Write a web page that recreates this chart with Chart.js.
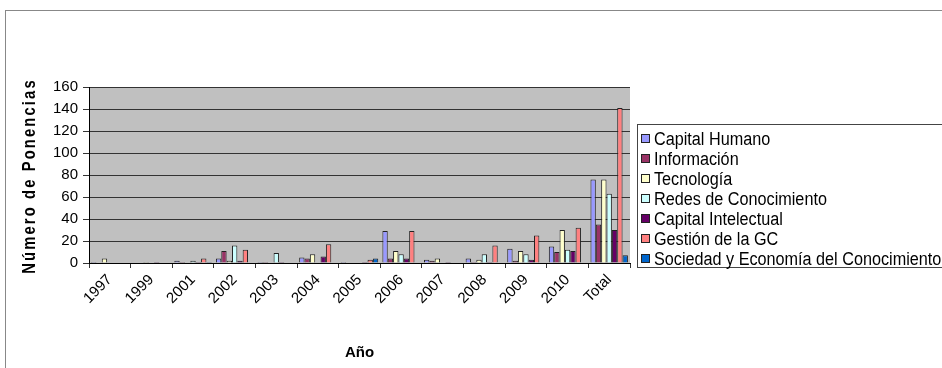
<!DOCTYPE html>
<html>
<head>
<meta charset="utf-8">
<script src="https://cdn.jsdelivr.net/npm/chart.js@4.4.0/dist/chart.umd.min.js"></script>
<style>
  html, body { margin: 0; padding: 0; background: #fff; }
</style>
</head>
<body>
<canvas id="myChart" width="942" height="368"></canvas>
<script>
// Datos
const years = ['1997', '1999', '2001', '2002', '2003', '2004', '2005', '2006', '2007', '2008', '2009', '2010', 'Total'];
const capitalHumano   = [1, 0, 2, 4, 1, 5, 1, 29, 3, 4, 13, 15, 76];
const informacion     = [0, 0, 1, 11, 1, 4, 0, 4, 2, 1, 2, 10, 35];
const tecnologia      = [4, 1, 0, 2, 0, 8, 0, 11, 4, 3, 11, 30, 76];
const redes           = [0, 0, 2, 16, 9, 0, 0, 8, 0, 8, 8, 12, 63];
const capitalIntelect = [0, 1, 1, 2, 1, 6, 1, 4, 1, 1, 3, 11, 30];
const gestionGC       = [0, 0, 4, 12, 0, 17, 3, 29, 0, 16, 25, 32, 141];
const sociedad        = [0, 0, 1, 0, 0, 0, 4, 0, 0, 0, 0, 0, 7];

const seriesNames = ['Capital Humano', 'Información', 'Tecnología', 'Redes de Conocimiento',
  'Capital Intelectual', 'Gestión de la GC', 'Sociedad y Economía del Conocimiento'];
const seriesColors = ['#9999FF', '#993366', '#FFFFCC', '#CCFFFF', '#660066', '#FF8080', '#0066CC'];
const seriesValues = [capitalHumano, informacion, tecnologia, redes, capitalIntelect, gestionGC, sociedad];

const FONT = '"Liberation Sans", Arial, sans-serif';

// Fondo gris del área de trazado, marco exterior, leyenda y título del eje Y
const decoraciones = {
    id: 'decoraciones',
    beforeDraw(chart) {
        const ctx = chart.ctx;
        const a = chart.chartArea;
        ctx.save();
        ctx.fillStyle = '#fff';
        ctx.fillRect(0, 0, chart.width, chart.height);
        ctx.strokeStyle = '#888';
        ctx.lineWidth = 1;
        ctx.strokeRect(5.5, 10.5, 1000, 400);
        ctx.fillStyle = '#C0C0C0';
        ctx.fillRect(a.left, a.top, a.right - a.left, a.bottom - a.top);
        ctx.restore();
    },
    afterDraw(chart) {
        const ctx = chart.ctx;
        ctx.save();
        // leyenda (texto algo estrecho)
        ctx.strokeStyle = '#444';
        ctx.lineWidth = 1;
        ctx.strokeRect(637.5, 124.5, 400, 143);
        ctx.font = '18px ' + FONT;
        ctx.textBaseline = 'middle';
        chart.data.datasets.forEach((ds, i) => {
            const y = 139 + i * 20;
            ctx.fillStyle = ds.backgroundColor;
            ctx.fillRect(641, y - 5, 9, 9);
            ctx.strokeStyle = '#222';
            ctx.strokeRect(641.5, y - 4.5, 8, 8);
            ctx.fillStyle = '#000';
            ctx.save();
            ctx.translate(654, y + 1);
            ctx.scale(0.9, 1);
            ctx.fillText(ds.label, 0, 0);
            ctx.restore();
        });
        // título del eje Y
        ctx.translate(30, 176);
        ctx.rotate(-Math.PI / 2);
        ctx.scale(0.82, 1);
        ctx.font = 'bold 18px ' + FONT;
        ctx.letterSpacing = '2.6px';
        ctx.textAlign = 'center';
        ctx.fillStyle = '#000';
        ctx.fillText('Número de Ponencias', 0, 0);
        ctx.restore();
    }
};

const ctx = document.getElementById('myChart').getContext('2d');
const myChart = new Chart(ctx, {
    type: 'bar',
    data: {
        labels: years,
        datasets: seriesValues.map((vals, i) => ({
            label: seriesNames[i],
            data: vals,
            backgroundColor: seriesColors[i],
            borderColor: '#222',
            borderWidth: 1,
            categoryPercentage: 0.9,
            barPercentage: 1.0
        }))
    },
    options: {
        responsive: false,
        animation: false,
        layout: { padding: { left: 0, top: 87, right: 312, bottom: 0 } },
        plugins: {
            legend: { display: false },
            tooltip: { enabled: false }
        },
        scales: {
            x: {
                grid: { drawOnChartArea: false, tickLength: 5, color: '#333' },
                border: { color: '#000' },
                ticks: {
                    color: '#000',
                    font: { family: FONT, size: 15 },
                    minRotation: 45,
                    maxRotation: 45,
                    autoSkip: false
                },
                title: {
                    display: true,
                    text: 'Año',
                    color: '#000',
                    font: { family: FONT, size: 15, weight: 'bold' },
                    padding: { top: 0, bottom: 6 }
                },
                afterFit(scale) { scale.height = 105; }
            },
            y: {
                min: 0,
                max: 160,
                ticks: {
                    stepSize: 20,
                    autoSkip: false,
                    color: '#000',
                    font: { family: FONT, size: 15 },
                    padding: 5
                },
                grid: { color: '#333', tickLength: 6 },
                border: { color: '#000' },
                afterFit(scale) { scale.width = 89; }
            }
        }
    },
    plugins: [decoraciones]
});
</script>
</body>
</html>
